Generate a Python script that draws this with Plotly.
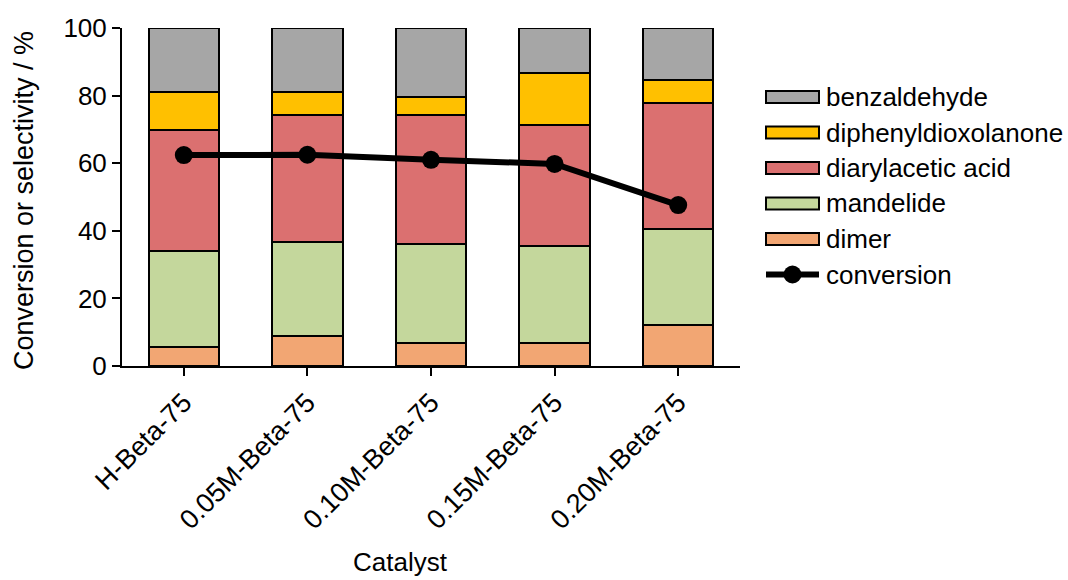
import plotly.graph_objects as go

# Catalysts on the x axis
catalysts = ["H-Beta-75", "0.05M-Beta-75", "0.10M-Beta-75", "0.15M-Beta-75", "0.20M-Beta-75"]

# Product selectivities (%), stacked bottom to top
dimer = [5.6, 9.0, 6.9, 6.8, 12.2]
mandelide = [28.5, 27.7, 29.1, 28.7, 28.4]
diarylacetic_acid = [35.7, 37.6, 38.4, 35.8, 37.2]
diphenyldioxolanone = [11.4, 6.7, 5.3, 15.4, 6.8]
benzaldehyde = [18.8, 19.0, 20.3, 13.3, 15.4]

# Conversion (%)
conversion = [62.4, 62.5, 61.0, 59.8, 47.6]

y_ticks = [0, 20, 40, 60, 80, 100]

FONT = "Liberation Sans, Arial, Helvetica, sans-serif"
W, H = 1068, 580
L, R, T, B = 122, 328, 28, 214
PW, PH = W - L - R, H - T - B


def px_x(px):
    return (px - L) / PW


def px_y(py):
    return (H - B - py) / PH


stack = [
    ("dimer", dimer, "#F2A673"),
    ("mandelide", mandelide, "#C4D79C"),
    ("diarylacetic acid", diarylacetic_acid, "#DB7070"),
    ("diphenyldioxolanone", diphenyldioxolanone, "#FFC000"),
    ("benzaldehyde", benzaldehyde, "#A6A6A6"),
]

fig = go.Figure()
for name, vals, col in stack:
    fig.add_trace(go.Bar(
        x=catalysts, y=vals, name=name,
        marker=dict(color=col, line=dict(color="black", width=2)),
        showlegend=False,
    ))

fig.add_trace(go.Scatter(
    x=catalysts, y=conversion, name="conversion", mode="lines+markers",
    line=dict(color="black", width=6),
    marker=dict(color="black", size=18),
    showlegend=False,
))

# Hand-drawn legend to the right of the plot area
shapes = []
annotations = []
rows = [(n, c) for n, _, c in reversed(stack)] + [("conversion", None)]
row_y0, row_dy = 97, 35.5
sx0, sx1, tx = 766, 819, 824
for i, (name, col) in enumerate(rows):
    cy = row_y0 + i * row_dy
    if col is not None:
        shapes.append(dict(
            type="rect", xref="paper", yref="paper",
            x0=px_x(sx0), x1=px_x(sx1), y0=px_y(cy + 6), y1=px_y(cy - 6),
            fillcolor=col, line=dict(color="black", width=2),
        ))
    else:
        shapes.append(dict(
            type="line", xref="paper", yref="paper",
            x0=px_x(sx0), x1=px_x(sx1), y0=px_y(cy), y1=px_y(cy),
            line=dict(color="black", width=6),
        ))
        shapes.append(dict(
            type="circle", xref="paper", yref="paper",
            x0=px_x((sx0 + sx1) / 2 - 9), x1=px_x((sx0 + sx1) / 2 + 9),
            y0=px_y(cy + 9), y1=px_y(cy - 9),
            fillcolor="black", line=dict(color="black", width=0),
        ))
    annotations.append(dict(
        text=name, xref="paper", yref="paper", x=px_x(tx), y=px_y(cy),
        xanchor="left", yanchor="middle", showarrow=False,
        font=dict(family=FONT, size=26, color="black"),
    ))

# Axis titles
annotations.append(dict(
    text="Catalyst", xref="paper", yref="paper", x=px_x(400), y=px_y(562),
    xanchor="center", yanchor="middle", showarrow=False,
    font=dict(family=FONT, size=26, color="black"),
))
annotations.append(dict(
    text="Conversion or selectivity / %", xref="paper", yref="paper",
    x=px_x(24), y=px_y(201), textangle=-90,
    xanchor="center", yanchor="middle", showarrow=False,
    font=dict(family=FONT, size=27, color="black"),
))

fig.update_layout(
    barmode="stack",
    bargap=0.43,
    width=W, height=H,
    margin=dict(l=L, r=R, t=T, b=B),
    paper_bgcolor="white", plot_bgcolor="white",
    font=dict(family=FONT, size=26, color="black"),
    shapes=shapes,
    annotations=annotations,
)
fig.update_xaxes(
    type="category", range=[-0.5, 4.5], tickangle=-45,
    showline=True, linecolor="black", linewidth=2,
    ticks="outside", ticklen=8, tickwidth=2, tickcolor="black",
    showgrid=False, tickfont=dict(size=27),
)
fig.update_yaxes(
    range=[0, 100], tickvals=y_ticks,
    showline=True, linecolor="black", linewidth=2,
    ticks="outside", ticklen=8, tickwidth=2, tickcolor="black",
    showgrid=False, zeroline=False, tickfont=dict(size=26),
)

fig.write_html("out.html")
